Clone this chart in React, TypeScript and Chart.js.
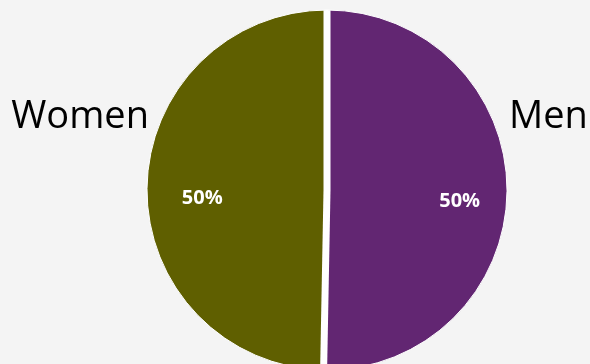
import React, { useEffect, useRef } from "react";
import { Chart, registerables } from "chart.js";

Chart.register(...registerables);

const categories = ["Men", "Women"];
const values = [50.3, 49.7];
const colors = ["#622672", "#5f5f00"];

const labelPlugin = {
  id: "sliceLabels",
  afterDatasetsDraw(chart: any) {
    const { ctx } = chart;
    const meta = chart.getDatasetMeta(0);
    const data = chart.data.datasets[0].data as number[];
    const total = data.reduce((a, b) => a + b, 0);
    ctx.save();
    // white separators between slices, following each arc's start angle
    meta.data.forEach((arc: any) => {
      const { x, y, startAngle, outerRadius } = arc.getProps(
        ["x", "y", "startAngle", "outerRadius"],
        true
      );
      ctx.save();
      ctx.beginPath();
      ctx.arc(x, y, outerRadius, 0, Math.PI * 2);
      ctx.clip();
      ctx.strokeStyle = "#ffffff";
      ctx.lineWidth = 7;
      ctx.beginPath();
      ctx.moveTo(x, y);
      ctx.lineTo(x + Math.cos(startAngle) * (outerRadius + 4), y + Math.sin(startAngle) * (outerRadius + 4));
      ctx.stroke();
      ctx.restore();
    });
    meta.data.forEach((arc: any, i: number) => {
      const { x, y, startAngle, endAngle, outerRadius } = arc.getProps(
        ["x", "y", "startAngle", "endAngle", "outerRadius"],
        true
      );
      const mid = (startAngle + endAngle) / 2;
      const r = outerRadius * 0.715;
      const px = x + Math.cos(mid) * r + 4;
      const py = y + Math.sin(mid) * r + 10;
      ctx.fillStyle = "#ffffff";
      ctx.font = "bold 20px 'Open Sans'";
      ctx.textAlign = "center";
      ctx.textBaseline = "middle";
      ctx.fillText(Math.round((data[i] / total) * 100) + "%", px, py);

      ctx.fillStyle = "#000000";
      ctx.font = "38px 'Open Sans'";
      ctx.textBaseline = "alphabetic";
      const right = Math.cos(mid) > 0;
      ctx.textAlign = right ? "left" : "right";
      const nx = right ? x + outerRadius + 2 : x - outerRadius + 2;
      ctx.fillText(chart.data.labels[i], nx, y - 62);
    });
    ctx.restore();
  },
};

export default function App() {
  const ref = useRef<HTMLCanvasElement>(null);
  useEffect(() => {
    document.body.style.margin = "0";
    document.body.style.background = "#f4f4f4";
    const chart = new Chart(ref.current!, {
      type: "pie",
      data: {
        labels: categories,
        datasets: [
          {
            data: values,
            backgroundColor: colors,
            borderColor: "#ffffff",
            borderWidth: 1,
            radius: 180,
          },
        ],
      },
      options: {
        animation: false,
        responsive: false,
        layout: { padding: { left: 64, right: 0, top: 16, bottom: 0 } },
        plugins: { legend: { display: false }, tooltip: { enabled: false } },
      },
      plugins: [labelPlugin],
    });
    return () => chart.destroy();
  }, []);
  return (
    <div style={{ position: "fixed", left: 0, top: 0, width: 590, height: 364, background: "#f4f4f4" }}>
      <canvas ref={ref} width={590} height={364} style={{ width: 590, height: 364 }} />
    </div>
  );
}
